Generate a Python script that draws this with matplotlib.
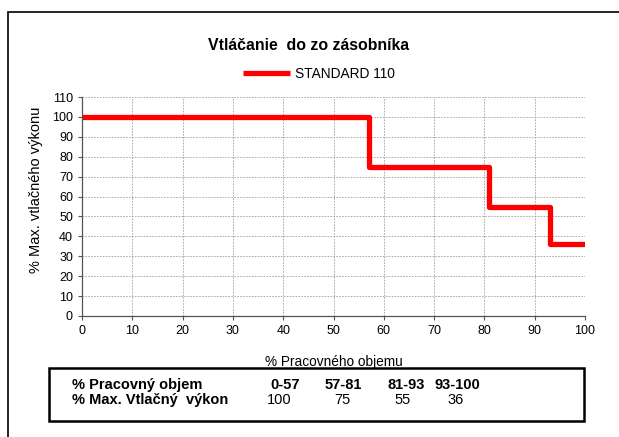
import matplotlib
matplotlib.use('Agg')
import matplotlib.pyplot as plt
from matplotlib.patches import Rectangle

plt.rcParams['font.family'] = ['Liberation Sans', 'DejaVu Sans']

# Údaje
objem = [0, 57, 81, 93, 100]
vykon = [100, 75, 55, 36, 36]
rozsahy = ['0-57', '57-81', '81-93', '93-100']
hodnoty = ['100', '75', '55', '36']
x_ticks = list(range(0, 101, 10))
y_ticks = list(range(0, 111, 10))

W, H = 619, 437
fig = plt.figure(figsize=(W / 100, H / 100), dpi=100)

# vonkajší rámik (pravá strana mimo obrázok)
fig.patches.append(Rectangle((8 / W, -0.05), 1.0, 1 - 12 / H + 0.05,
                             transform=fig.transFigure, fill=False,
                             edgecolor='black', linewidth=1.2))

ax = fig.add_axes([82 / W, 1 - 316 / H, 503 / W, 219 / H])
ax.plot(objem, vykon, drawstyle='steps-post', color='#ff0000', linewidth=3.8,
        label='STANDARD 110', solid_capstyle='butt')
ax.set_xlim(0, 100)
ax.set_ylim(0, 110)
ax.set_xticks(x_ticks)
ax.set_yticks(y_ticks)
ax.tick_params(labelsize=9, length=3, width=0.8, color='#555555')
ax.grid(True, linestyle=(0, (2, 1.5)), color='#a0a0a0', linewidth=0.6)
ax.set_axisbelow(True)
for s in ['top', 'right']:
    ax.spines[s].set_visible(False)
for s in ['left', 'bottom']:
    ax.spines[s].set_color('#555555')
    ax.spines[s].set_linewidth(0.9)

ax.set_xlabel('% Pracovného objemu', fontsize=9.8, labelpad=13)
ax.set_ylabel('% Max. vtlačného výkonu', fontsize=10.5)
ax.yaxis.set_label_coords(-39 / 503, (316 - 190) / 219)

fig.text(309 / W, 1 - 45 / H, 'Vtláčanie  do zo zásobníka', ha='center', va='center',
         fontsize=11.4, fontweight='bold')
leg = ax.legend(loc='center', bbox_to_anchor=((319 - 82) / 503, (316 - 74) / 219),
                frameon=False, fontsize=9.9, handlelength=3.4, handletextpad=0.4)

# tabuľka pod grafom
fig.patches.append(Rectangle((49 / W, 1 - 421 / H), 535 / W, 53 / H,
                             transform=fig.transFigure, fill=False,
                             edgecolor='black', linewidth=1.8))
r1 = 1 - 385 / H
r2 = 1 - 400 / H
fig.text(72 / W, r1, '% Pracovný objem', fontsize=10.5, fontweight='bold', va='center')
fig.text(72 / W, r2, '% Max. Vtlačný  výkon', fontsize=10.5, fontweight='bold', va='center')
for xc, rz in zip([285, 343, 406, 457], rozsahy):
    fig.text(xc / W, r1, rz, fontsize=10.5, fontweight='bold', ha='center', va='center')
for xc, hd in zip([279, 342, 403, 456], hodnoty):
    fig.text(xc / W, r2, hd, fontsize=10.5, ha='center', va='center')

fig.savefig('out.png', dpi=100)
